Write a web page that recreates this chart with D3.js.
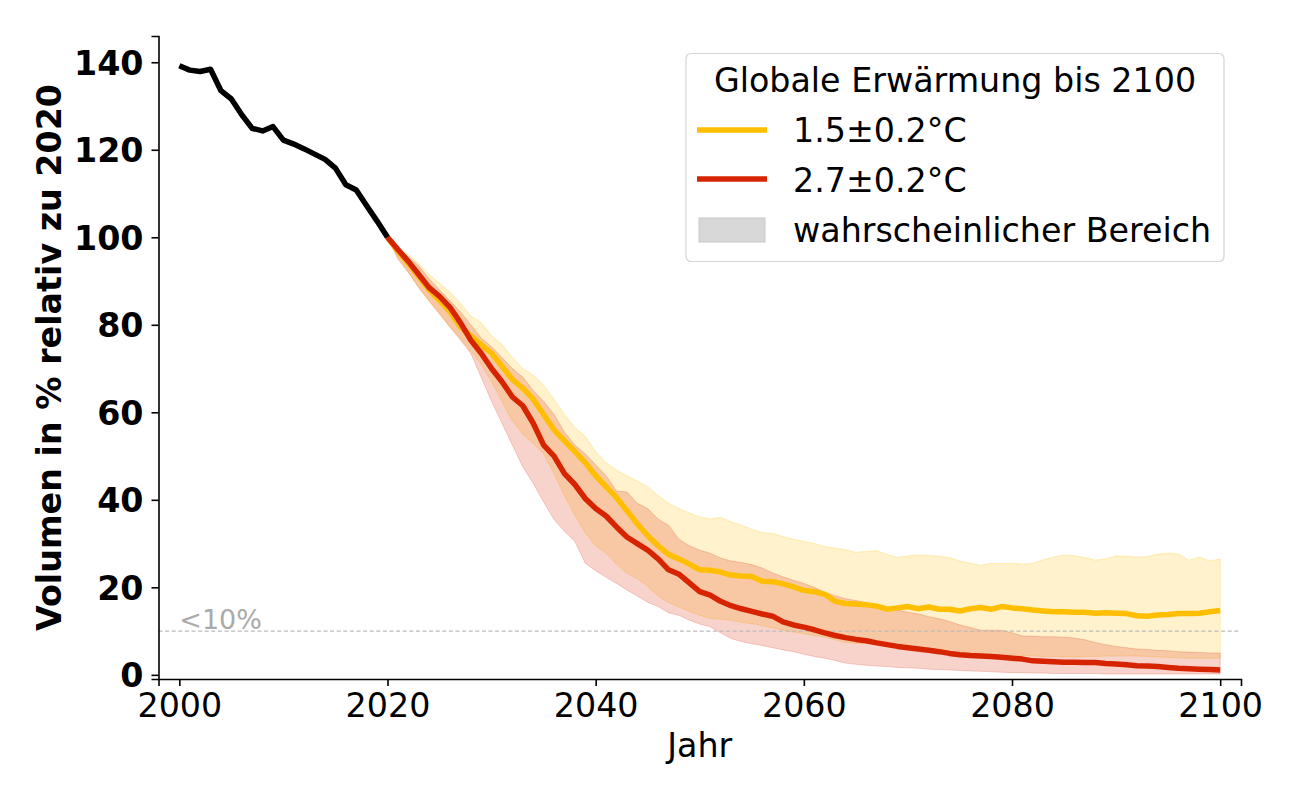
<!DOCTYPE html>
<html><head><meta charset="utf-8">
<script src="https://cdn.jsdelivr.net/npm/d3@7"></script>
<style>body{margin:0;background:#fff}svg{display:block;font-family:"DejaVu Sans",sans-serif}</style>
</head><body><svg id="c" width="1300" height="800"></svg>
<script>
const histYears = d3.range(2000, 2021);
const histVals = [139.2,138.2,137.9,138.4,133.5,131.6,128,124.9,124.3,125.3,122.2,121.3,120.2,119,117.8,115.8,112,110.8,107.2,103.7,100];
const projYears = d3.range(2020, 2101);
const med15 = [100,96.8,94,91,88,85.5,83,79.5,77.5,75.5,73.5,70.5,67.5,65.5,63,59.5,56,53.5,51,48.5,45.5,43,40.5,37.5,34.5,31.8,29.5,27.5,26.5,25.3,24,23.9,23.5,22.8,22.6,22.5,21.4,21.3,20.8,20.1,19.3,19,18.4,16.8,16.3,16.2,16,15.7,15,15.3,15.6,15.1,15.5,15,15,14.6,15.1,15.4,15,15.6,15.3,15.1,14.8,14.6,14.4,14.4,14.3,14.3,14.1,14.2,14.1,14,13.5,13.4,13.7,13.8,14,14,14.1,14.4,14.7];
const hi15 = [100,97.5,96,94,91.5,89.5,87.5,85,82,80.5,77.5,75.5,72.5,70,68.5,66.2,63,59.5,56.5,54.5,51,48.5,46.8,45.5,44.3,43,41,39.2,38,37,36.1,35.6,36,35,34.2,33.3,32.5,32.3,31.6,31,30.5,30,29.3,29,28.6,28,28.2,28.4,27.5,26.8,27.2,27.4,27.3,27.1,26.8,26,25.5,25,25.5,25.4,25.5,25.3,25.5,26.3,26.9,27.4,27.2,26.8,26.2,26.5,27.2,27.1,26.9,27,27.6,27.8,27.6,26.2,26.9,26,26.5];
const lo15 = [100,95.5,92,88.5,85.3,82.5,79.5,77,74,71,67,62.5,58,55,52.9,50.5,46,41,36.5,32.5,29.5,27.8,25.3,23.2,22,20.2,18,16.5,15.5,14.5,13.6,12.9,12.7,12.5,12,11.7,11.2,10.7,10.2,9.8,9.4,9,8.6,8,7.4,7.2,7.1,7,6.9,6.7,6.5,6.3,6,5.7,5.3,5,4.8,4.7,4.6,4.5,4.4,4.4,4.3,4.2,4.2,4.1,4.1,4.2,4.2,4.3,4.3,4.3,4.3,4.2,4.1,4,3.9,3.8,3.8,3.8,3.8];
const med27 = [100,97.2,94.5,91.5,88.5,86.5,84,80.5,76.5,73.5,70,67,63.5,61.5,57.5,52.5,50,46,43.5,40.3,38,36.3,33.8,31.5,30,28.5,26.5,24,23,21,19,18.2,16.8,15.8,15.1,14.5,13.9,13.4,12.1,11.4,10.9,10.3,9.6,9,8.5,8.1,7.8,7.3,6.9,6.5,6.2,5.9,5.6,5.3,4.9,4.6,4.4,4.3,4.2,4,3.8,3.6,3.2,3.1,3,2.9,2.85,2.8,2.8,2.6,2.5,2.3,2.1,2,1.9,1.7,1.5,1.4,1.3,1.2,1.1];
const hi27 = [100,97.5,95.5,93.5,90.5,88,85.5,83,80,77,75,72.5,70,68,65,62.5,59.5,55.5,52.5,50.5,48,45.5,42,41.8,39.2,38,35.6,34.2,31,29.5,28.5,27.8,26.7,26,25.7,25.2,24.4,23.3,22.4,21.6,20.9,20,18.9,18.1,17.4,17,16.5,15.9,15.3,14.8,14.3,13.9,13.3,12.8,12.2,11.4,10.8,10.2,10.2,10.2,9.6,8.9,8.8,8.7,8.7,8.6,8.4,8,7.4,6.9,6.5,6.2,5.9,5.8,5.6,5.5,5.3,5.2,5.1,5,5];
const lo27 = [100,95,92,88.5,85.5,82.5,79.5,76.5,73.5,68,62.5,57.5,52.5,47.5,43.8,39.5,35.5,32.8,30.5,25.5,23.8,22.3,20.9,19.4,18,16.6,15.6,14.2,13.6,12.5,11.6,11,9.6,8.3,7.6,7.1,6.7,6.2,5.7,5.3,4.7,4.2,3.8,3.3,2.7,2.4,2.2,2,1.9,1.7,1.6,1.5,1.3,1.2,1.1,1,0.9,0.8,0.7,0.6,0.5,0.5,0.4,0.4,0.3,0.3,0.3,0.3,0.3,0.2,0.2,0.2,0.2,0.2,0.2,0.2,0.2,0.2,0.2,0.2,0.2];
const xTicks = [2000,2020,2040,2060,2080,2100];
const yTicks = [0,20,40,60,80,100,120,140];
const threshold = 10;
const legendTitle = "Globale Erwärmung bis 2100";
const legendLabels = ["1.5±0.2°C","2.7±0.2°C","wahrscheinlicher Bereich"];
const xLabel = "Jahr", yLabel = "Volumen in % relativ zu 2020", thrLabel = "<10%";

const C15 = "#ffbf00", C27 = "#d62400";
const FS = 33.3, LW = 5.5;
const svg = d3.select("#c");
const x = d3.scaleLinear().domain([1998, 2102]).range([158.5, 1241]);
const y = d3.scaleLinear().domain([-0.95, 146]).range([679, 36]);

const area = (lo, hi) => d3.area().x((d,i)=>x(projYears[i])).y0((d,i)=>y(lo[i])).y1((d,i)=>y(hi[i]))(lo);
const line = (ys, vs) => d3.line().x((d,i)=>x(ys[i])).y((d,i)=>y(vs[i]))(vs);

svg.append("path").attr("d", area(lo15, hi15)).attr("fill", C15).attr("fill-opacity", 0.2)
  .attr("stroke", C15).attr("stroke-opacity", 0.25).attr("stroke-width", 1);
svg.append("path").attr("d", area(lo27, hi27)).attr("fill", C27).attr("fill-opacity", 0.2)
  .attr("stroke", C27).attr("stroke-opacity", 0.2).attr("stroke-width", 1);

svg.append("line").attr("x1", x.range()[0]).attr("x2", x.range()[1]).attr("y1", y(threshold)).attr("y2", y(threshold))
  .attr("stroke", "#bbbbbb").attr("stroke-width", 1.3).attr("stroke-dasharray", "4,2.6");
svg.append("text").attr("x", x(2000)).attr("y", y(threshold) - 2).attr("fill", "#aaaaaa")
  .attr("font-size", 27).text(thrLabel);

svg.append("path").attr("d", line(projYears, med15)).attr("fill","none").attr("stroke", C15).attr("stroke-width", LW).attr("stroke-linejoin","round");
svg.append("path").attr("d", line(projYears, med27)).attr("fill","none").attr("stroke", C27).attr("stroke-width", LW).attr("stroke-linejoin","round");
svg.append("path").attr("d", line(histYears, histVals)).attr("fill","none").attr("stroke", "#000").attr("stroke-width", LW).attr("stroke-linejoin","round");

const gx = svg.append("g").attr("transform", `translate(0,679)`)
  .call(d3.axisBottom(x).tickValues(xTicks).tickFormat(d3.format("d")).tickSizeOuter(0).tickSize(7).tickPadding(6));
const gy = svg.append("g").attr("transform", `translate(158.5,0)`)
  .call(d3.axisLeft(y).tickValues(yTicks).tickSizeOuter(0).tickSize(7).tickPadding(8));
[gx, gy].forEach(g => {
  g.select(".domain").attr("stroke-width", 1.6).attr("stroke", "#000");
  g.selectAll(".tick line").attr("stroke-width", 1.6).attr("stroke", "#000");
  g.selectAll("text").attr("fill", "#000").attr("font-family", "DejaVu Sans").attr("font-size", FS);
});
gy.selectAll("text").attr("font-weight", "bold").attr("dy", "0.36em");
gx.selectAll("text").attr("dy", "0.76em");

svg.append("text").attr("x", x(2050)).attr("y", 757).attr("text-anchor","middle").attr("font-size", FS).text(xLabel);
svg.append("text").attr("transform", `translate(61,${(36+679)/2}) rotate(-90)`).attr("text-anchor","middle")
  .attr("font-size", FS).attr("font-weight","bold").text(yLabel);

const lg = svg.append("g");
lg.append("rect").attr("x", 686).attr("y", 53.5).attr("width", 538).attr("height", 208).attr("rx", 5)
  .attr("fill", "#fff").attr("fill-opacity", 0.85).attr("stroke", "#d5d5d5").attr("stroke-width", 1.2);
lg.append("text").attr("x", 955).attr("y", 92).attr("text-anchor","middle").attr("font-size", FS).text(legendTitle);
lg.append("line").attr("x1", 697).attr("x2", 767).attr("y1", 130).attr("y2", 130).attr("stroke", C15).attr("stroke-width", LW);
lg.append("line").attr("x1", 697).attr("x2", 767).attr("y1", 179).attr("y2", 179).attr("stroke", C27).attr("stroke-width", LW);
lg.append("rect").attr("x", 699).attr("y", 218).attr("width", 66).attr("height", 24).attr("fill", "#d8d8d8").attr("stroke", "#c8c8c8");
const ly = [142, 192, 242];
legendLabels.forEach((t,i) => lg.append("text").attr("x", 793).attr("y", ly[i]).attr("font-size", FS).text(t));
</script></body></html>
